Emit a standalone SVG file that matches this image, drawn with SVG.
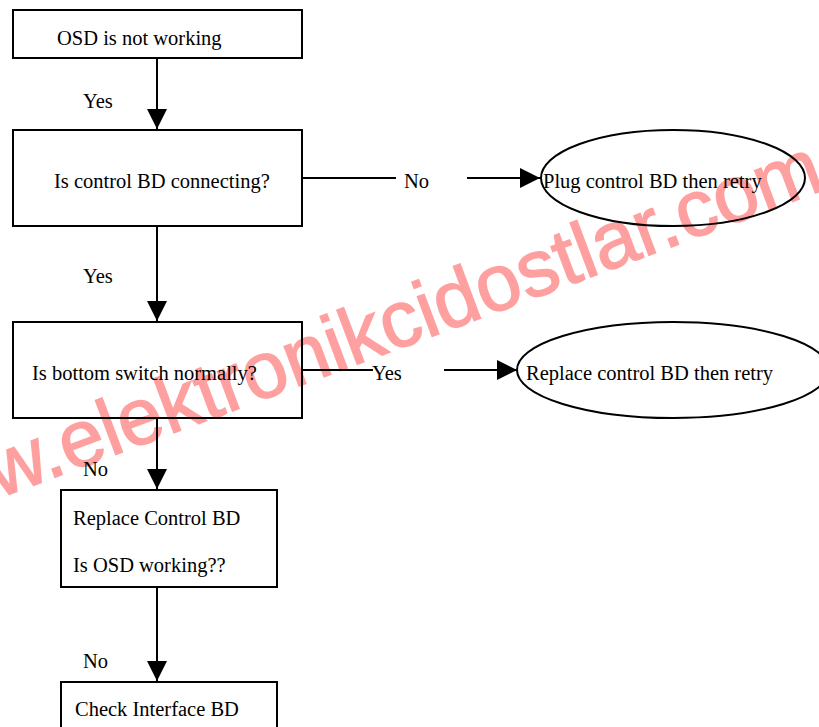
<svg xmlns="http://www.w3.org/2000/svg" width="819" height="727" viewBox="0 0 819 727">
<style>
.box{fill:none;stroke:#000;stroke-width:2}
.ell{fill:none;stroke:#000;stroke-width:2}
.t{font-size:20.5px;fill:#000}
.c{stroke:#000;stroke-width:2;fill:none}
.arr{marker-end:url(#ah)}
.wm{font-size:80px;fill:#ffa0a0;stroke:#ffa0a0;stroke-width:1.5}
</style>
<defs>
<marker id="ah" markerUnits="userSpaceOnUse" markerWidth="20" markerHeight="20" refX="20" refY="10" orient="auto">
<path d="M0,0 L20,10 L0,20 z" fill="#000"/>
</marker>
</defs>
<rect width="819" height="727" fill="#fff"/>
<text class="wm" font-family="Liberation Sans, Arial, sans-serif" transform="translate(-110,539) rotate(-20.5)">www.elektronikcidostlar.com</text>
<g font-family="Liberation Serif, Times New Roman, serif">
<g id="n1"><rect class="box" x="13" y="10" width="289" height="48"/><text class="t" x="57" y="45">OSD is not working</text></g>
<g id="n2"><rect class="box" x="13" y="130" width="289" height="96"/><text class="t" x="54" y="188">Is control BD connecting?</text></g>
<g id="n3"><ellipse class="ell" cx="673" cy="178" rx="132" ry="48"/><text class="t" x="543" y="188">Plug control BD then retry</text></g>
<g id="n4"><rect class="box" x="13" y="322" width="289" height="96"/><text class="t" x="32" y="380">Is bottom switch normally?</text></g>
<g id="n5"><ellipse class="ell" cx="673" cy="370" rx="156" ry="48"/><text class="t" x="526" y="380">Replace control BD then retry</text></g>
<g id="n6"><rect class="box" x="61" y="490" width="216" height="97"/><text class="t" x="73" y="525">Replace Control BD</text><text class="t" x="73" y="572">Is OSD working??</text></g>
<g id="n7"><rect class="box" x="61" y="682" width="216" height="60"/><text class="t" x="75" y="716">Check Interface BD</text></g>
<g id="connectors">
<line class="c arr" x1="157" y1="58" x2="157" y2="129"/>
<text class="t" x="83" y="108">Yes</text>
<line class="c" x1="302" y1="178" x2="396" y2="178"/>
<text class="t" x="404" y="188">No</text>
<line class="c arr" x1="467" y1="178" x2="540" y2="178"/>
<line class="c arr" x1="157" y1="226" x2="157" y2="321"/>
<text class="t" x="83" y="283">Yes</text>
<line class="c" x1="302" y1="370" x2="373" y2="370"/>
<text class="t" x="372" y="380">Yes</text>
<line class="c arr" x1="444" y1="370" x2="517" y2="370"/>
<line class="c arr" x1="157" y1="418" x2="157" y2="489"/>
<text class="t" x="83" y="476">No</text>
<line class="c arr" x1="157" y1="587" x2="157" y2="681"/>
<text class="t" x="83" y="668">No</text>
</g>
</g>
</svg>
